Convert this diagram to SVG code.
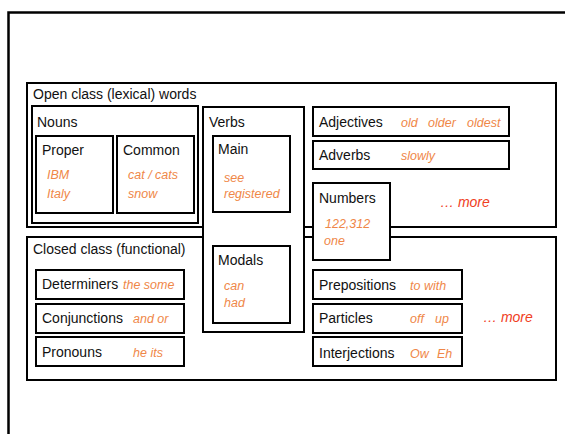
<svg xmlns="http://www.w3.org/2000/svg" width="565" height="434" viewBox="0 0 565 434">
  <style>
    .box { fill: #ffffff; stroke: #000000; stroke-width: 2; }
    .frame { fill: none; stroke: #000000; stroke-width: 2.5; }
    .lbl { font-family: "Liberation Sans", Arial, sans-serif; font-size: 14px; fill: #111111; }
    .ex { font-family: "Liberation Sans", Arial, sans-serif; font-size: 12.5px; font-style: italic; fill: #ef8748; }
    .more { font-family: "Liberation Sans", Arial, sans-serif; font-size: 14px; font-style: italic; fill: #f0401e; }
  </style>

  <rect width="565" height="434" fill="#ffffff"/>

  <!-- page frame, running off the right and bottom edges -->
  <rect class="frame" x="8.5" y="12.5" width="600" height="480"/>

  <!-- open class group -->
  <g id="open-class">
    <rect class="box" x="27" y="83" width="529" height="144"/>
    <text class="lbl" x="33" y="99">Open class (lexical) words</text>
    <text class="more" x="440" y="207">… more</text>
  </g>

  <!-- closed class group -->
  <g id="closed-class">
    <rect class="box" x="27" y="237" width="529" height="143"/>
    <text class="lbl" x="33" y="254">Closed class (functional)</text>
    <text class="more" x="483" y="322">… more</text>
  </g>

  <g id="nouns">
    <rect class="box" x="32" y="106" width="166" height="117"/>
    <text class="lbl" x="37" y="127">Nouns</text>
  </g>
  <g id="proper">
    <rect class="box" x="36" y="136" width="77" height="77"/>
    <text class="lbl" x="42" y="155">Proper</text>
    <text class="ex" x="47" y="179">IBM</text>
    <text class="ex" x="47" y="198">Italy</text>
  </g>
  <g id="common">
    <rect class="box" x="117" y="136" width="77" height="77"/>
    <text class="lbl" x="123" y="155">Common</text>
    <text class="ex" x="128" y="179">cat / cats</text>
    <text class="ex" x="128" y="198">snow</text>
  </g>

  <!-- verbs spans both groups -->
  <g id="verbs">
    <rect class="box" x="203" y="107" width="101" height="225"/>
    <text class="lbl" x="209" y="127">Verbs</text>
  </g>
  <g id="main">
    <rect class="box" x="213" y="136" width="77" height="76"/>
    <text class="lbl" x="218" y="154">Main</text>
    <text class="ex" x="224" y="182">see</text>
    <text class="ex" x="224" y="198">registered</text>
  </g>
  <g id="modals">
    <rect class="box" x="213" y="246" width="77" height="77"/>
    <text class="lbl" x="218" y="265">Modals</text>
    <text class="ex" x="224" y="290">can</text>
    <text class="ex" x="224" y="307">had</text>
  </g>

  <g id="adjectives">
    <rect class="box" x="313" y="107" width="196" height="29"/>
    <text class="lbl" x="319" y="127">Adjectives</text>
    <text class="ex" x="401" y="127">old</text>
    <text class="ex" x="428" y="127">older</text>
    <text class="ex" x="467" y="127">oldest</text>
  </g>
  <g id="adverbs">
    <rect class="box" x="313" y="141" width="196" height="28"/>
    <text class="lbl" x="319" y="160">Adverbs</text>
    <text class="ex" x="401" y="160">slowly</text>
  </g>
  <g id="numbers">
    <rect class="box" x="313" y="183" width="77" height="77"/>
    <text class="lbl" x="319" y="203">Numbers</text>
    <text class="ex" x="325" y="228">122,312</text>
    <text class="ex" x="324" y="245">one</text>
  </g>

  <g id="determiners">
    <rect class="box" x="36" y="270" width="148" height="29"/>
    <text class="lbl" x="42" y="289">Determiners</text>
    <text class="ex" x="123" y="289">the some</text>
  </g>
  <g id="conjunctions">
    <rect class="box" x="36" y="304" width="148" height="29"/>
    <text class="lbl" x="42" y="323">Conjunctions</text>
    <text class="ex" x="133" y="323">and or</text>
  </g>
  <g id="pronouns">
    <rect class="box" x="36" y="337" width="148" height="29"/>
    <text class="lbl" x="42" y="357">Pronouns</text>
    <text class="ex" x="133" y="357">he its</text>
  </g>

  <g id="prepositions">
    <rect class="box" x="313" y="270" width="149" height="29"/>
    <text class="lbl" x="319" y="290">Prepositions</text>
    <text class="ex" x="410" y="290">to with</text>
  </g>
  <g id="particles">
    <rect class="box" x="313" y="304" width="149" height="29"/>
    <text class="lbl" x="319" y="323">Particles</text>
    <text class="ex" x="410" y="323">off</text>
    <text class="ex" x="435" y="323">up</text>
  </g>
  <g id="interjections">
    <rect class="box" x="313" y="337" width="149" height="29"/>
    <text class="lbl" x="319" y="358">Interjections</text>
    <text class="ex" x="410" y="358">Ow</text>
    <text class="ex" x="437" y="358">Eh</text>
  </g>

  <!-- no connectors in this figure -->
  <g id="connectors"/>
</svg>
